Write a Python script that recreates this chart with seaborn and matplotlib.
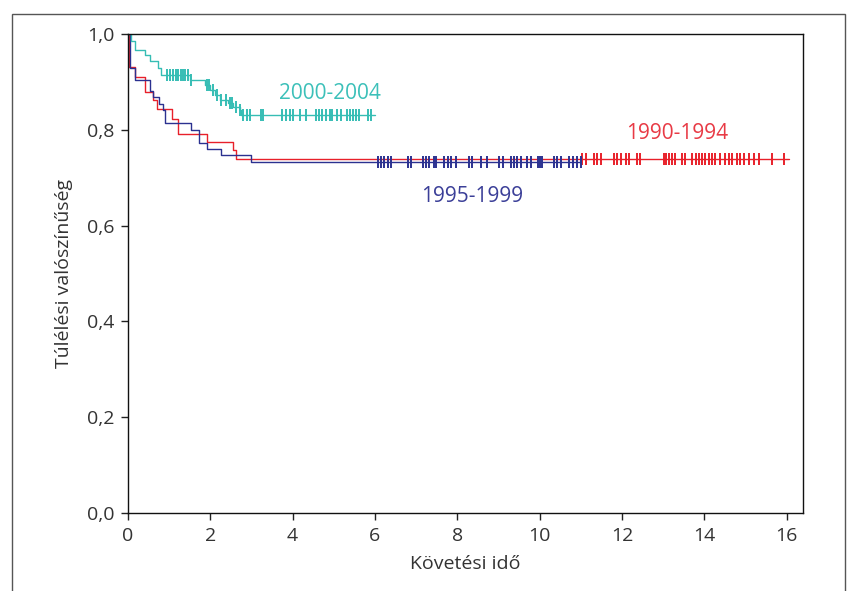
import numpy as np
import pandas as pd
import matplotlib
matplotlib.use("Agg")
import matplotlib.pyplot as plt
from matplotlib.patches import Rectangle
from matplotlib.ticker import FuncFormatter
import seaborn as sns

# ---- data ----
cohorts = ["1990-1994", "1995-1999", "2000-2004"]

# Kaplan-Meier step points (time in years, survival probability)
t_1990 = [0, 0.03, 0.17, 0.41, 0.61, 0.71, 1.08, 1.22, 1.91, 2.55, 2.63]
s_1990 = [1.0, 0.932, 0.911, 0.878, 0.862, 0.843, 0.822, 0.791, 0.775, 0.758, 0.740]
end_1990 = 16.05

t_1995 = [0, 0.05, 0.17, 0.53, 0.61, 0.76, 0.86, 0.90, 1.52, 1.73, 1.92, 2.27, 3.0]
s_1995 = [1.0, 0.928, 0.903, 0.880, 0.868, 0.854, 0.841, 0.814, 0.800, 0.773, 0.759, 0.747, 0.733]
end_1995 = 11.0

t_2000 = [0, 0.08, 0.17, 0.41, 0.53, 0.73, 0.79, 1.50, 1.87, 1.99, 2.11, 2.23, 2.42, 2.55, 2.71, 2.75]
s_2000 = [1.0, 0.985, 0.967, 0.957, 0.943, 0.929, 0.915, 0.904, 0.894, 0.884, 0.873, 0.862, 0.856, 0.848, 0.841, 0.831]
end_2000 = 6.0

# censored observations (time)
c_1990 = [11.04, 11.12, 11.32, 11.40, 11.48, 11.81, 11.89, 11.97, 12.09, 12.17, 12.37, 12.45,
          13.02, 13.07, 13.14, 13.22, 13.30, 13.46, 13.54, 13.70, 13.79, 13.87, 13.95, 14.03,
          14.11, 14.19, 14.27, 14.39, 14.51, 14.59, 14.67, 14.80, 14.88, 14.96, 15.08, 15.20,
          15.32, 15.64, 15.93]
c_1995 = [6.07, 6.15, 6.23, 6.31, 6.39, 6.80, 6.88, 7.16, 7.24, 7.32, 7.44, 7.48, 7.68, 7.77,
          7.85, 7.97, 8.29, 8.37, 8.57, 8.73, 9.02, 9.10, 9.30, 9.38, 9.46, 9.54, 9.70, 9.78,
          9.95, 10.0, 10.05, 10.35, 10.43, 10.51, 10.72, 10.80, 10.92, 11.0]
c_2000 = [0.94, 1.02, 1.10, 1.16, 1.22, 1.28, 1.34, 1.38, 1.46, 1.54, 1.91, 1.97, 2.07, 2.17,
          2.25, 2.39, 2.47, 2.53, 2.63, 2.72, 2.80, 2.88, 2.96, 3.22, 3.28, 3.75, 3.83, 3.93,
          4.02, 4.17, 4.33, 4.56, 4.64, 4.72, 4.82, 4.90, 4.96, 5.08, 5.18, 5.32, 5.40, 5.46,
          5.54, 5.62, 5.83, 5.91]

x_ticks = [0, 2, 4, 6, 8, 10, 12, 14, 16]
y_ticks = [0.0, 0.2, 0.4, 0.6, 0.8, 1.0]
x_label = "Követési idő"
y_label = "Túlélési valószínűség"

# ---- style ----
sns.set_style("white")
plt.rcParams["font.family"] = ["Open Sans", "DejaVu Sans"]

line_colors = {"1990-1994": "#e8202a", "1995-1999": "#2b3190", "2000-2004": "#36bdb4"}
text_colors = {"1990-1994": "#e83a45", "1995-1999": "#3b3f98", "2000-2004": "#3cc0b9"}

fig = plt.figure(figsize=(8.47, 5.91), dpi=100)
ax = fig.add_axes([128 / 847, 1 - 513 / 591, (803 - 128) / 847, (513 - 34) / 591])

series = {
    "1990-1994": (t_1990, s_1990, end_1990, c_1990),
    "1995-1999": (t_1995, s_1995, end_1995, c_1995),
    "2000-2004": (t_2000, s_2000, end_2000, c_2000),
}

for name in cohorts:
    t, s, end, cens = series[name]
    tt = np.array(list(t) + [end])
    ss = np.array(list(s) + [s[-1]])
    df = pd.DataFrame({"t": tt, "s": ss})
    sns.lineplot(data=df, x="t", y="s", drawstyle="steps-post", estimator=None,
                 sort=False, color=line_colors[name], lw=1.0, ax=ax)
    idx = np.searchsorted(np.array(t), np.array(cens), side="right") - 1
    cdf = pd.DataFrame({"t": cens, "s": np.array(s)[idx]})
    sns.scatterplot(data=cdf, x="t", y="s", marker="|", s=75, linewidth=1.4,
                    color=line_colors[name], ax=ax, zorder=3)

# in-plot labels
ax.text(4.9, 0.875, "2000-2004", color=text_colors["2000-2004"], fontsize=15,
        ha="center", va="center")
ax.text(13.33, 0.793, "1990-1994", color=text_colors["1990-1994"], fontsize=15,
        ha="center", va="center")
ax.text(8.35, 0.660, "1995-1999", color=text_colors["1995-1999"], fontsize=15,
        ha="center", va="center")

ax.set_xlim(0, 16.4)
ax.set_ylim(0, 1.0)
ax.set_xticks(x_ticks)
ax.set_yticks(y_ticks)
ax.yaxis.set_major_formatter(FuncFormatter(lambda v, p: f"{v:.1f}".replace(".", ",")))
ax.tick_params(axis="both", which="major", direction="out", length=5, width=1,
               color="#222222", labelsize=14, labelcolor="#333333", pad=5,
               bottom=True, left=True, top=False, right=False)
for sp in ax.spines.values():
    sp.set_color("#111111")
    sp.set_linewidth(1.0)

ax.set_xlabel(x_label, fontsize=14, color="#333333", labelpad=7)
ax.set_ylabel(y_label, fontsize=14, color="#333333", labelpad=10)

# outer frame
fig.add_artist(Rectangle((12 / 847, -0.05), (845 - 12) / 847, 1.05 - 14 / 591,
                         transform=fig.transFigure, fill=False, ec="#555555", lw=1.0))

fig.savefig("out.png", dpi=100)
